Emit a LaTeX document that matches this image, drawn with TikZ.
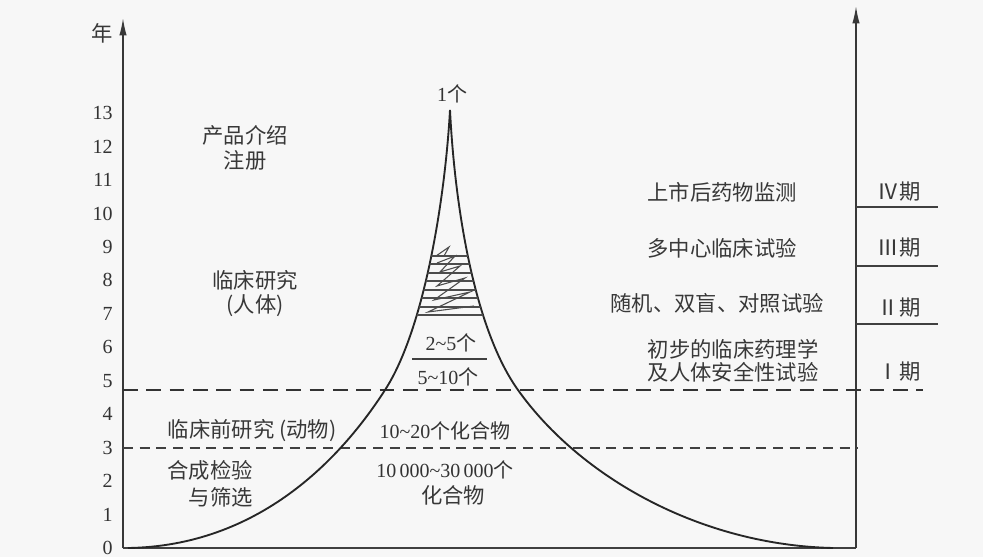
\documentclass[tikz,border=0pt]{standalone}
\usepackage{fontspec}
\setmainfont{Liberation Serif}
\newfontfamily\cjk{Noto Sans CJK SC}
\usetikzlibrary{arrows.meta}
\begin{document}
\begin{tikzpicture}[x=0.75pt,y=-0.75pt,
  txt/.style={text=black!80, font=\fontsize{15}{19}\selectfont, inner sep=0pt},
  ctxt/.style={text=black!78, font=\fontsize{16}{17}\selectfont\cjk, inner sep=0pt, align=center},
  axisline/.style={draw=black!78, line width=1.1pt, -{Latex[length=13pt,width=5.5pt]}},
  baseline/.style={draw=black!75, line width=1.1pt},
  curveline/.style={draw=black!85, line width=1.4pt},
  thinline/.style={draw=black!75, line width=0.9pt},
  hatch/.style={draw=black!70, line width=0.8pt},
  bigdash/.style={draw=black!80, line width=1.6pt, dash pattern=on 11pt off 6.5pt},
  smalldash/.style={draw=black!75, line width=1pt, dash pattern=on 7.5pt off 5pt},
  ]
\useasboundingbox[fill=black!3] (0,0) rectangle (983,557);

% axes
\coordinate (O) at (123,548);
\coordinate (Ytop) at (123,18);
\coordinate (R0) at (856,548);
\coordinate (Rtop) at (856,6);
\draw[baseline] (O) -- (R0);
\draw[axisline] (O) -- (Ytop);
\draw[axisline] (R0) -- (Rtop);
\node[ctxt] (nian) at (102,33) {年};
\foreach \i in {0,...,13}
  \node[txt, anchor=east] (y\i) at (113,548-33.45*\i) {\i};

% dashed lines
\coordinate (d1a) at (123,390); \coordinate (d1b) at (923,390);
\coordinate (d2a) at (123,448); \coordinate (d2b) at (858,448);
\draw[bigdash] (d1a) -- (d1b);
\draw[smalldash] (d2a) -- (d2b);

% phase lines
\foreach \yy/\nm in {207/a,266/b,324/c}{
  \coordinate (p\nm1) at (856,\yy); \coordinate (p\nm2) at (938,\yy);
  \draw[thinline] (p\nm1) -- (p\nm2);
}

% funnel curve
\coordinate (cL) at (128,548);
\coordinate (cLm) at (385,390);
\coordinate (cTop) at (450,110);
\coordinate (cRm) at (518,390);
\coordinate (cR) at (833,548);
\def\funnelleft{(cL) .. controls (258,546) and (340,460) .. (cLm) .. controls (424,330) and (445,200) .. (cTop)}
\def\funnelright{(cTop) .. controls (455,210) and (475,330) .. (cRm) .. controls (580,477) and (700,545) .. (cR)}
\draw[curveline] \funnelleft;
\draw[curveline] \funnelright;

% hatching
\begin{scope}
\clip \funnelleft .. controls (455,210) and (475,330) .. (cRm) .. controls (580,477) and (700,545) .. (cR) -- cycle;
\foreach \yy in {256,264,273,281,290,298,307,315}
  \draw[hatch] (400,\yy) -- (500,\yy);
\draw[hatch] (436,256) -- (449,247) -- (444,256)
  (437,263) -- (455,256) -- (440,272) -- (460,266) -- (437,286) -- (465,278)
  -- (434,300) -- (470,292) -- (428,312) -- (474,306);
\end{scope}

% center labels
\node[txt] (one) at (452,94) {1{\cjk 个}};
\node[txt] (t25) at (451,343) {2\textasciitilde5{\cjk 个}};
\coordinate (fl) at (412,359); \coordinate (fr) at (487,359);
\draw[thinline] (fl) -- (fr);
\node[txt] (t510) at (448,377) {5\textasciitilde10{\cjk 个}};
\node[txt] (t1020) at (445,431) {10\textasciitilde20{\cjk 个化合物}};
\node[txt] (tbig) at (445,470) {10\,000\textasciitilde30\,000{\cjk 个}};
\node[ctxt] (thhw) at (453,495) {化合物};

% left labels
\node[ctxt] (cp) at (245,135) {产品介绍};
\node[ctxt] (zc) at (245,160) {注册};
\node[ctxt] (lc) at (255,280) {临床研究};
\node[ctxt] (rt) at (255,306) {(人体)};
\node[ctxt] (lcq) at (252,431) {临床前研究 (动物)};
\node[ctxt, anchor=east] (hc) at (253,470) {合成检验};
\node[ctxt, anchor=east] (ys) at (253,497) {与筛选};

% right labels
\node[ctxt] (ss) at (722,192) {上市后药物监测};
\node[ctxt] (dz) at (722,248) {多中心临床试验};
\node[ctxt] (sj) at (717,303) {随机、双盲、对照试验};
\node[ctxt] (cb) at (733,361) {初步的临床药理学\\[0pt]及人体安全性试验};
\node[ctxt] (q4) at (899,192) {Ⅳ期};
\node[ctxt] (q3) at (899,248) {Ⅲ期};
\node[ctxt] (q2) at (899,308) {Ⅱ期};
\node[ctxt] (q1) at (899,372) {Ⅰ期};
\end{tikzpicture}
\end{document}
